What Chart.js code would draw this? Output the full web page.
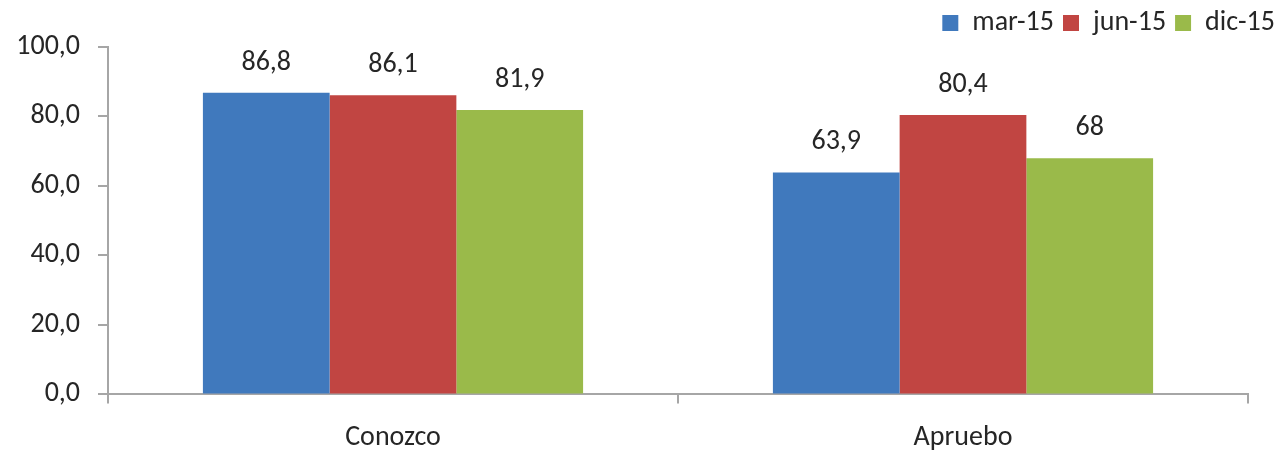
<!DOCTYPE html>
<html>
<head>
<meta charset="utf-8">
<script src="https://cdn.jsdelivr.net/npm/chart.js@4"></script>
<style>
  html, body { margin: 0; padding: 0; background: #fff; }
  #wrap { width: 1284px; height: 456px; }
</style>
</head>
<body>
<div id="wrap"><canvas id="encuesta" width="1284" height="456"></canvas></div>
<script>
        // Datos del gráfico
        const categorias = ["Conozco", "Apruebo"];
        const series = ["mar-15", "jun-15", "dic-15"];
        const mar15 = [86.8, 63.9];
        const jun15 = [86.1, 80.4];
        const dic15 = [81.9, 68];
        const colores = ["#4079bd", "#c14542", "#9aba4a"];
        const ticksY = [0, 20, 40, 60, 80, 100];

        const fuente = "Carlito, Calibri, Lato, sans-serif";
        const tam = 28;
        const gris = "#a6a6a6";

        // Etiquetas de valor encima de cada barra
        const etiquetas = {
            id: "etiquetas",
            afterDatasetsDraw(chart) {
                const ctx = chart.ctx;
                ctx.save();
                ctx.font = tam + "px " + fuente;
                ctx.fillStyle = "#262626";
                ctx.textAlign = "center";
                ctx.textBaseline = "middle";
                chart.data.datasets.forEach((ds, i) => {
                    chart.getDatasetMeta(i).data.forEach((bar, j) => {
                        ctx.fillText(String(ds.data[j]).replace(".", ","), bar.x, bar.y - 30);
                    });
                });
                ctx.restore();
            }
        };

        const data = {
            labels: categorias,
            datasets: [mar15, jun15, dic15].map((valores, i) => ({
                label: series[i],
                data: valores,
                backgroundColor: colores[i],
                borderWidth: 0
            }))
        };

        const config = {
            type: "bar",
            data: data,
            plugins: [etiquetas],
            options: {
                responsive: false,
                animation: false,
                categoryPercentage: 0.667,
                barPercentage: 1,
                layout: { padding: { left: 0, right: 0, top: 0, bottom: -17 } },
                plugins: {
                    legend: {
                        position: "top",
                        align: "end",
                        labels: {
                            boxWidth: 16,
                            boxHeight: 16,
                            padding: 9,
                            color: "#262626",
                            font: { family: fuente, size: tam }
                        }
                    },
                    tooltip: { enabled: false }
                },
                scales: {
                    x: {
                        grid: { offset: true, drawOnChartArea: false, color: gris, lineWidth: 2, tickLength: 9 },
                        border: { color: gris, width: 2 },
                        ticks: { color: "#262626", padding: 18, font: { family: fuente, size: tam } }
                    },
                    y: {
                        min: 0,
                        max: 100,
                        afterBuildTicks(axis) { axis.ticks = ticksY.map(v => ({ value: v })); },
                        afterFit(axis) { axis.width = 108; },
                        grid: { drawOnChartArea: false, color: gris, lineWidth: 2, tickLength: 10 },
                        border: { color: gris, width: 2 },
                        ticks: {
                            color: "#262626",
                            padding: 18,
                            font: { family: fuente, size: tam },
                            callback: v => v.toFixed(1).replace(".", ",")
                        }
                    },
                    // eje vacío para dejar el margen derecho
                    margen: {
                        position: "right",
                        afterFit(axis) { axis.width = 36; },
                        grid: { display: false },
                        border: { display: false },
                        ticks: { display: false }
                    }
                }
            }
        };

        new Chart(document.getElementById("encuesta"), config);
</script>
</body>
</html>
